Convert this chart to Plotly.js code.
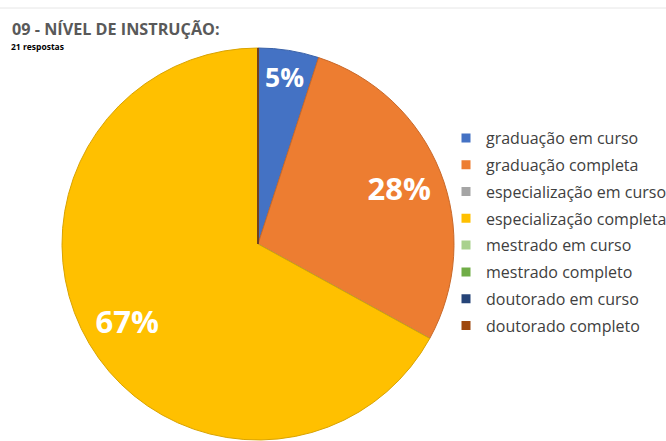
<!DOCTYPE html>
<html>
<head>
<meta charset="utf-8">
<script src="https://cdn.plot.ly/plotly-3.0.1.min.js"></script>
<style>html,body{margin:0;padding:0;background:#fff;}#chart{width:666px;height:441px;}</style>
</head>
<body>
<div id="chart"></div>
<script>
const titleText = "09 - NÍVEL DE INSTRUÇÃO:";
const subtitleText = "21 respostas";
const categories = ["graduação em curso", "graduação completa", "especialização em curso", "especialização completa", "mestrado em curso", "mestrado completo", "doutorado em curso", "doutorado completo"];
const percentages = [5, 28, 0, 67, 0, 0, 0, 0];
const colors = ["#4472C4", "#ED7D31", "#A5A5A5", "#FFC000", "#A9D18E", "#70AD47", "#264478", "#9E480E"];
const edgeColors = ["#3A62A8", "#C9692A", "#8C8C8C", "#D9A300", "#90B279", "#5F933C", "#203A66", "#863D0C"];

const sliceText = percentages.map(v => v > 0 ? v + "%" : "");
const pieDomain = {x: [62/666, 454/666], y: [1/441, 393/441]};

const traces = [{
  type: "pie",
  labels: categories,
  values: percentages,
  textinfo: "none",
  marker: {colors: colors, line: {color: edgeColors, width: 1}},
  sort: false,
  direction: "clockwise",
  rotation: 0,
  showlegend: false,
  hoverinfo: "label+percent",
  domain: pieDomain
}, {
  // transparent ring overlay that only carries the percentage labels,
  // so they sit towards the outer part of each slice
  type: "pie",
  labels: categories,
  values: percentages,
  text: sliceText,
  textinfo: "text",
  textposition: "inside",
  insidetextorientation: "horizontal",
  textfont: {family: "Open Sans", size: 31, color: "#ffffff", weight: "bold"},
  hole: 0.55,
  marker: {colors: colors.map(() => "rgba(0,0,0,0)"), line: {width: 0}},
  sort: false,
  direction: "clockwise",
  rotation: 0,
  showlegend: false,
  hoverinfo: "skip",
  domain: pieDomain
}];

categories.forEach((c, i) => {
  traces.push({
    type: "scatter",
    mode: "markers",
    x: [null], y: [null],
    name: c,
    legendgroup: "g" + i,
    marker: {symbol: "square", size: 9, color: colors[i]},
    showlegend: true,
    hoverinfo: "skip"
  });
});

const layout = {
  width: 666, height: 441,
  margin: {l: 0, r: 0, t: 0, b: 0, autoexpand: false},
  paper_bgcolor: "#ffffff",
  plot_bgcolor: "rgba(0,0,0,0)",
  xaxis: {visible: false, domain: [0, 0.01]},
  yaxis: {visible: false, domain: [0, 0.01]},
  title: {
    text: titleText,
    font: {family: "Open Sans", size: 16.2, color: "#595959", weight: "bold"},
    x: 12/666, xanchor: "left", xref: "paper",
    y: 1 - 29/441, yanchor: "middle", yref: "container"
  },
  annotations: [{
    text: subtitleText, showarrow: false,
    xref: "paper", yref: "paper", x: 9/666, xanchor: "left",
    y: 1 - 47/441, yanchor: "middle",
    font: {family: "Open Sans", size: 8.5, color: "#000000", weight: "bold"}
  }],
  legend: {
    x: 446/666, xanchor: "left", xref: "container",
    y: 1 - 121/441, yanchor: "top", yref: "container",
    font: {family: "Open Sans", size: 16, color: "#404040"},
    tracegroupgap: 3,
    bgcolor: "rgba(0,0,0,0)",
    itemclick: false
  },
  shapes: [{type: "line", xref: "paper", yref: "paper", x0: 0, x1: 1, y0: 1 - 8/441, y1: 1 - 8/441, line: {color: "#e6e6e6", width: 1}}],
  showlegend: true
};

Plotly.newPlot("chart", traces, layout, {displayModeBar: false, staticPlot: true});
</script>
</body>
</html>
